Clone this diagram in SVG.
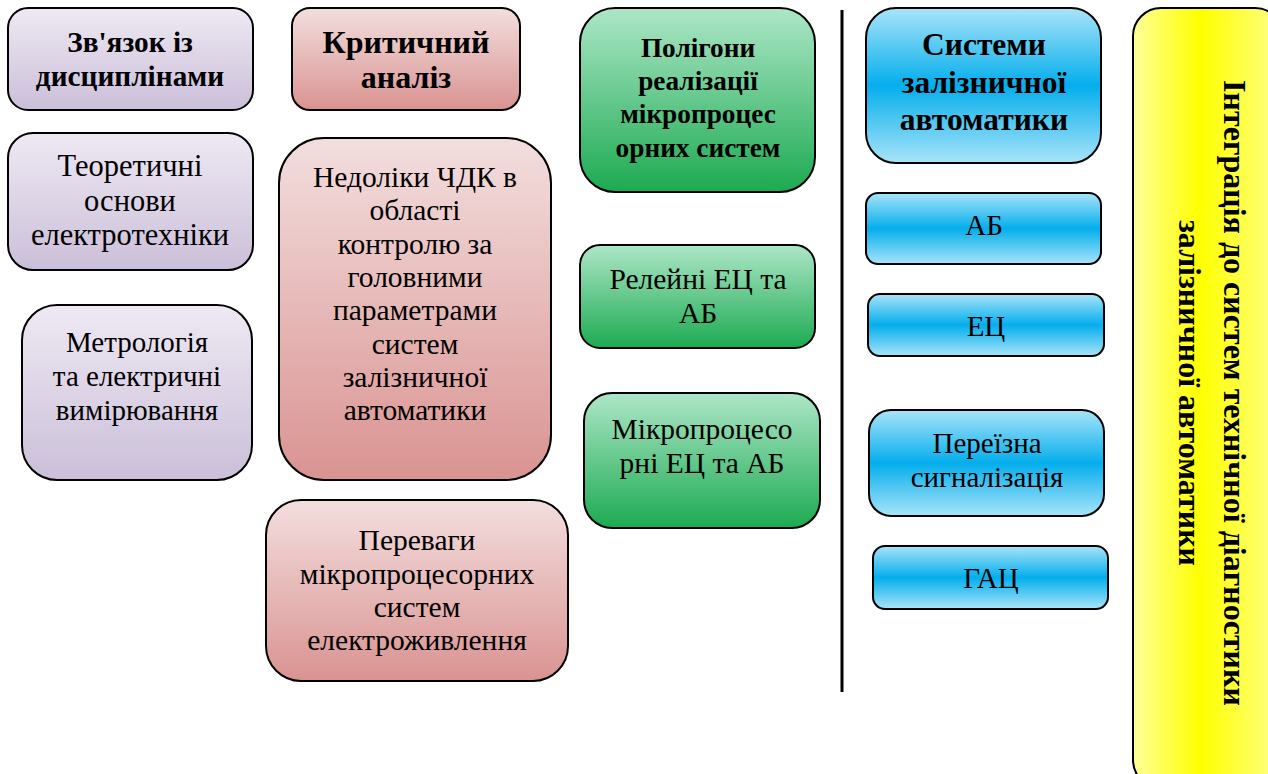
<svg xmlns="http://www.w3.org/2000/svg" width="1268" height="774" viewBox="0 0 1268 774">
<defs>
<linearGradient id="gPurple" x1="0" y1="0" x2="0" y2="1"><stop offset="0" stop-color="#eee9f3"/><stop offset="1" stop-color="#cbbfd9"/></linearGradient>
<linearGradient id="gPink" x1="0" y1="0" x2="0" y2="1"><stop offset="0" stop-color="#f3dede"/><stop offset="1" stop-color="#d99391"/></linearGradient>
<linearGradient id="gGreen" x1="0" y1="0" x2="0" y2="1"><stop offset="0" stop-color="#ade6c7"/><stop offset="1" stop-color="#1caa51"/></linearGradient>
<linearGradient id="gBlue" x1="0" y1="0" x2="0" y2="1"><stop offset="0" stop-color="#a9e4f9"/><stop offset="0.5" stop-color="#04aeec"/><stop offset="1" stop-color="#a9e4f9"/></linearGradient>
<linearGradient id="gYellow" x1="0" y1="0" x2="1" y2="0"><stop offset="0" stop-color="#ffff9a"/><stop offset="0.45" stop-color="#ffff00"/><stop offset="1" stop-color="#ffff8c"/></linearGradient>
</defs>
<style>
.box{stroke:#000;stroke-width:2}
.t{font-family:"Liberation Serif","Times New Roman",serif;font-size:29.5px;fill:#000;text-anchor:middle}
.b{font-weight:bold}
.b29{font-size:29.3px}
.b32{font-size:32px}
.b27{font-size:27.3px}
.b31{font-size:31.5px}
.r30{font-size:30.5px}
.r29{font-size:29px}
</style>
<rect width="1268" height="774" fill="#fff"/>

<g id="n-zviazok"><rect class="box" x="8" y="8" width="245" height="102" rx="20" fill="url(#gPurple)"/>
<text class="t b b29" x="130" y="52">Зв'язок із</text><text class="t b b29" x="130" y="86">дисциплінами</text></g>
<g id="n-teor"><rect class="box" x="8" y="133" width="245" height="137" rx="25" fill="url(#gPurple)"/>
<text class="t r30" x="130" y="176">Теоретичні</text><text class="t r30" x="130" y="211">основи</text><text class="t r30" x="130" y="245">електротехніки</text></g>
<g id="n-metr"><rect class="box" x="22" y="305" width="230" height="175" rx="35" fill="url(#gPurple)"/>
<text class="t r29" x="137" y="352">Метрологія</text><text class="t r29" x="137" y="386">та електричні</text><text class="t r29" x="137" y="420">вимірювання</text></g>

<g id="n-krit"><rect class="box" x="292" y="8" width="228" height="102" rx="18" fill="url(#gPink)"/>
<text class="t b b32" x="406" y="53">Критичний</text><text class="t b b32" x="406" y="88">аналіз</text></g>
<g id="n-nedoliky"><rect class="box" x="279" y="138" width="272" height="342" rx="45" fill="url(#gPink)"/>
<text class="t" x="415" y="187">Недоліки ЧДК в</text><text class="t" x="415" y="220">області</text><text class="t" x="415" y="254">контролю за</text><text class="t" x="415" y="287">головними</text><text class="t" x="415" y="320">параметрами</text><text class="t" x="415" y="354">систем</text><text class="t" x="415" y="387">залізничної</text><text class="t" x="415" y="420">автоматики</text></g>
<g id="n-perevagy"><rect class="box" x="266" y="500" width="302" height="181" rx="35" fill="url(#gPink)"/>
<text class="t" x="417" y="550">Переваги</text><text class="t" x="417" y="584">мікропроцесорних</text><text class="t" x="417" y="617">систем</text><text class="t" x="417" y="650">електроживлення</text></g>

<g id="n-poligony"><rect class="box" x="580" y="8" width="235" height="184" rx="35" fill="url(#gGreen)"/>
<text class="t b b27" x="698" y="57">Полігони</text><text class="t b b27" x="698" y="90">реалізації</text><text class="t b b27" x="698" y="123">мікропроцес</text><text class="t b b27" x="698" y="157">орних систем</text></g>
<g id="n-releini"><rect class="box" x="580" y="245" width="235" height="103" rx="20" fill="url(#gGreen)"/>
<text class="t" x="698" y="289">Релейні ЕЦ та</text><text class="t" x="698" y="323">АБ</text></g>
<g id="n-mikro"><rect class="box" x="584" y="393" width="236" height="135" rx="28" fill="url(#gGreen)"/>
<text class="t" x="702" y="439">Мікропроцесо</text><text class="t" x="702" y="473">рні ЕЦ та АБ</text></g>

<g id="connectors"><line x1="842" y1="10" x2="842" y2="692" stroke="#000" stroke-width="3"/></g>

<g id="n-systemy"><rect class="box" x="866" y="8" width="235" height="155" rx="30" fill="url(#gBlue)"/>
<text class="t b b31" x="984" y="55">Системи</text><text class="t b b31" x="984" y="93">залізничної</text><text class="t b b31" x="984" y="130">автоматики</text></g>
<g id="n-ab"><rect class="box" x="866" y="193" width="235" height="71" rx="12" fill="url(#gBlue)"/>
<text class="t r29" x="984" y="235">АБ</text></g>
<g id="n-ec"><rect class="box" x="868" y="294" width="236" height="62" rx="12" fill="url(#gBlue)"/>
<text class="t r29" x="986" y="336">ЕЦ</text></g>
<g id="n-pereizna"><rect class="box" x="869" y="410" width="235" height="106" rx="22" fill="url(#gBlue)"/>
<text class="t r29" x="987" y="453">Переїзна</text><text class="t r29" x="987" y="487">сигналізація</text></g>
<g id="n-gac"><rect class="box" x="873" y="546" width="235" height="63" rx="12" fill="url(#gBlue)"/>
<text class="t r29" x="991" y="588">ГАЦ</text></g>

<g id="n-integr"><rect class="box" x="1133" y="8" width="150" height="780" rx="28" fill="url(#gYellow)"/>
<text class="t b b32" transform="translate(1224,393) rotate(90)"><tspan x="0" y="0">Інтеграція до систем технічної діагностики</tspan><tspan x="0" dy="45">залізничної автоматики</tspan></text></g>
</svg>
